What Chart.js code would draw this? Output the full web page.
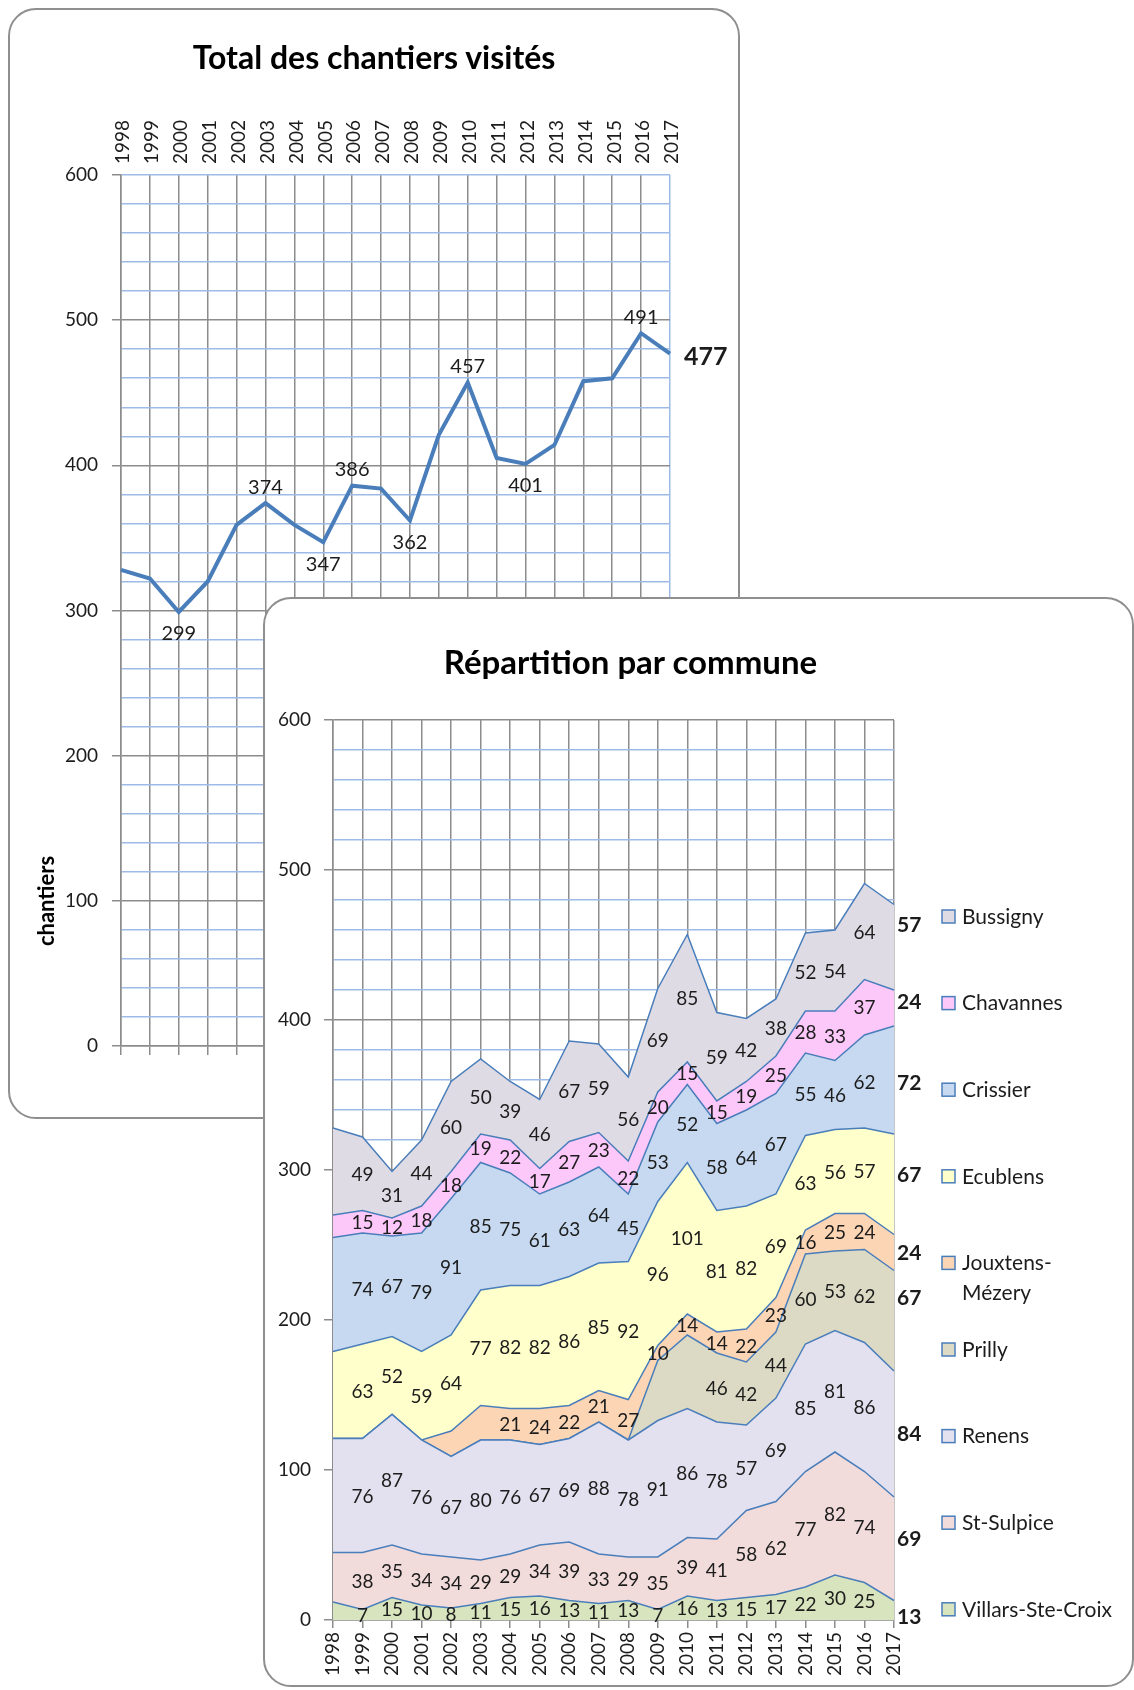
<!DOCTYPE html>
<html>
<head>
<meta charset="utf-8">
<script src="https://cdn.jsdelivr.net/npm/chart.js@4.4.1/dist/chart.umd.min.js"></script>
<style>
html, body { margin: 0; padding: 0; width: 1134px; height: 1690px; overflow: hidden; background: #fff; font-family: Lato, sans-serif; }
.panel { position: absolute; background: #fff; border: 2px solid #8f8f8f; border-radius: 28px; box-sizing: border-box; overflow: hidden; }
#panelTotal { left: 8px; top: 8px; width: 732px; height: 1111px; z-index: 1; }
#panelCommune { left: 263px; top: 597px; width: 871px; height: 1090px; z-index: 2; }
.panel canvas { position: absolute; left: 0; top: 0; }
.title { position: absolute; left: 0; right: 0; text-align: center; font-weight: bold; color: #000; line-height: 36px; }
#yTitle { position: absolute; left: -24px; top: 878px; width: 120px; height: 26px; line-height: 26px; text-align: center;
          font-weight: bold; font-size: 22px; color: #000; transform: rotate(-90deg); }
</style>
</head>
<body>
<div class="panel" id="panelTotal">
  <canvas id="totalChart" width="728" height="1107"></canvas>
  <div class="title" style="top:29px;font-size:32px;">Total des chantiers visités</div>
  <div id="yTitle">chantiers</div>
</div>
<div class="panel" id="panelCommune">
  <canvas id="communeChart" width="867" height="1086"></canvas>
  <div class="title" style="top:44px;right:136px;font-size:33px;">Répartition par commune</div>
</div>
<script>
// categories
const years = ['1998', '1999', '2000', '2001', '2002', '2003', '2004', '2005', '2006', '2007',
               '2008', '2009', '2010', '2011', '2012', '2013', '2014', '2015', '2016', '2017'];

// total of visited sites
const totals = [328, 322, 299, 320, 359, 374, 359, 347, 386, 384, 362, 421, 457, 405, 401, 414, 458, 460, 491, 477];

// tick labels shown on the value axes
const yTickLabels = [0, 100, 200, 300, 400, 500, 600];

// per commune, stacked from the bottom
const villars   = [12, 7, 15, 10, 8, 11, 15, 16, 13, 11, 13, 7, 16, 13, 15, 17, 22, 30, 25, 13];
const stSulpice = [33, 38, 35, 34, 34, 29, 29, 34, 39, 33, 29, 35, 39, 41, 58, 62, 77, 82, 74, 69];
const renens    = [76, 76, 87, 76, 67, 80, 76, 67, 69, 88, 78, 91, 86, 78, 57, 69, 85, 81, 86, 84];
const prilly    = [0, 0, 0, 0, 0, 0, 0, 0, 0, 0, 0, 40, 49, 46, 42, 44, 60, 53, 62, 67];
const jouxtens  = [0, 0, 0, 0, 17, 23, 21, 24, 22, 21, 27, 10, 14, 14, 22, 23, 16, 25, 24, 24];
const ecublens  = [58, 63, 52, 59, 64, 77, 82, 82, 86, 85, 92, 96, 101, 81, 82, 69, 63, 56, 57, 67];
const crissier  = [76, 74, 67, 79, 91, 85, 75, 61, 63, 64, 45, 53, 52, 58, 64, 67, 55, 46, 62, 72];
const chavannes = [15, 15, 12, 18, 18, 19, 22, 17, 27, 23, 22, 20, 15, 15, 19, 25, 28, 33, 37, 24];
const bussigny  = [58, 49, 31, 44, 60, 50, 39, 46, 67, 59, 56, 69, 85, 59, 42, 38, 52, 54, 64, 57];

// labels on the total line
const totalLabelSide = { '2000': 'below', '2003': 'above', '2005': 'below', '2006': 'above', '2008': 'below',
                         '2010': 'above', '2012': 'below', '2016': 'above', '2017': 'right' };
// labels that the original leaves out
const hiddenLabels = { 'Prilly': ['2009', '2010'], 'Jouxtens-Mézery': ['2002', '2003'] };
// nudges (px) of the bold end labels, as placed in the original
const endLabelShift = { 'Bussigny': -22, 'Chavannes': -6, 'Crissier': 3, 'Ecublens': -9, 'Jouxtens-Mézery': 1,
                        'Prilly': -23, 'Renens': 0, 'St-Sulpice': -10, 'Villars-Ste-Croix': 7 };

const GRAY = '#8c8c8c';
const BLUE = '#9dbbe6';
const LINE = '#4a7ebb';
const TEXT = '#1c1c1c';

function gridColor(topBlue) {
    return function(c) {
        if (!c.tick) return GRAY;
        if (topBlue && c.tick.value === 600) return BLUE;
        return c.tick.value % 100 === 0 ? GRAY : BLUE;
    };
}

function yScale(width, topBlue, pad) {
    return {
        min: 0, max: 600,
        afterFit: function(scale) { scale.width = width; },
        ticks: {
            stepSize: 20, autoSkip: false, padding: pad,
            color: TEXT, font: { family: 'Lato', size: 19 },
            callback: v => yTickLabels.includes(v) ? v : ''
        },
        grid: {
            color: gridColor(topBlue), lineWidth: 1.5, tickLength: 9,
            tickColor: c => (c.tick && c.tick.value % 100 === 0) ? GRAY : 'rgba(0,0,0,0)'
        },
        border: { color: GRAY, width: 1.5 }
    };
}

// ---------- Total chart ----------
const totalLabelsPlugin = {
    id: 'totalLabels',
    afterDatasetsDraw(chart) {
        const ctx = chart.ctx;
        const meta = chart.getDatasetMeta(0);
        ctx.save();
        ctx.fillStyle = TEXT;
        ctx.textBaseline = 'middle';
        Object.keys(totalLabelSide).forEach(yr => {
            const i = years.indexOf(yr);
            const p = meta.data[i];
            const side = totalLabelSide[yr];
            if (side === 'right') {
                ctx.font = 'bold 25px Lato';
                ctx.textAlign = 'left';
                ctx.fillText(totals[i], p.x + 14, p.y + 3);
            } else {
                ctx.font = '20px Lato';
                ctx.textAlign = 'center';
                ctx.fillText(totals[i], p.x, side === 'above' ? p.y - 16 : p.y + 22);
            }
        });
        ctx.restore();
    }
};

new Chart(document.getElementById('totalChart'), {
    type: 'line',
    data: {
        labels: years,
        datasets: [{
            data: totals,
            borderColor: LINE,
            borderWidth: 4,
            pointRadius: 0,
            tension: 0,
            fill: false
        }]
    },
    options: {
        responsive: false,
        animation: false,
        layout: { padding: { left: 0, right: 68, top: 85, bottom: 61 } },
        plugins: { legend: { display: false }, tooltip: { enabled: false } },
        scales: {
            x: {
                position: 'bottom',
                afterFit: function(scale) { scale.height = 10; },
                ticks: { display: false },
                grid: {
                    color: c => c.index === years.length - 1 ? BLUE : GRAY,
                    lineWidth: 1.5, tickLength: 9, tickColor: GRAY
                },
                border: { color: GRAY, width: 1.5 }
            },
            xTop: {
                type: 'category',
                labels: years,
                position: 'top',
                offset: false,
                afterFit: function(scale) { scale.height = 80; },
                ticks: {
                    maxRotation: 90, minRotation: 90, autoSkip: false, padding: 11, labelOffset: 25,
                    color: TEXT, font: { family: 'Lato', size: 19 }
                },
                grid: { display: false, drawTicks: false },
                border: { display: false }
            },
            y: yScale(111, true, 14)
        }
    },
    plugins: [totalLabelsPlugin]
});

// ---------- Commune chart ----------
const communes = [
    { name: 'Villars-Ste-Croix', values: villars,   color: '#d7e4bd' },
    { name: 'St-Sulpice',        values: stSulpice, color: '#f2dcdb' },
    { name: 'Renens',            values: renens,    color: '#e3e0ef' },
    { name: 'Prilly',            values: prilly,    color: '#dcdac4' },
    { name: 'Jouxtens-Mézery',   values: jouxtens,  color: '#fcd5b5' },
    { name: 'Ecublens',          values: ecublens,  color: '#ffffcb' },
    { name: 'Crissier',          values: crissier,  color: '#c6d9f0' },
    { name: 'Chavannes',         values: chavannes, color: '#fcc8fa' },
    { name: 'Bussigny',          values: bussigny,  color: '#dedbe4' }
];

const communeLabelsPlugin = {
    id: 'communeLabels',
    afterDatasetsDraw(chart) {
        const ctx = chart.ctx;
        const yS = chart.scales.y;
        const area = chart.chartArea;
        const last = years.length - 1;
        ctx.save();
        ctx.fillStyle = TEXT;
        ctx.textBaseline = 'middle';
        chart.data.datasets.forEach((ds, d) => {
            const meta = chart.getDatasetMeta(d);
            const below = d > 0 ? chart.getDatasetMeta(d - 1) : null;
            const hidden = hiddenLabels[ds.label] || [];
            ds.data.forEach((v, i) => {
                if (i === 0 || v <= 0) return;
                if (hidden.includes(years[i])) return;
                const top = meta.data[i].y;
                const bottom = below ? below.data[i].y : yS.getPixelForValue(0);
                const cy = (top + bottom) / 2;
                if (i === last) {
                    ctx.font = 'bold 21px Lato';
                    ctx.textAlign = 'left';
                    ctx.fillText(v, area.right + 3, cy + (endLabelShift[ds.label] || 0));
                } else {
                    ctx.font = '19px Lato';
                    ctx.textAlign = 'center';
                    ctx.fillText(v, meta.data[i].x, cy + 1);
                }
            });
        });

        // legend, top to bottom
        const order = chart.data.datasets.slice().reverse();
        ctx.font = '21px Lato';
        ctx.textAlign = 'left';
        order.forEach((ds, k) => {
            const cy = 318 + k * 86.6;
            ctx.fillStyle = ds.backgroundColor;
            ctx.fillRect(677, cy - 7, 13, 13);
            ctx.strokeStyle = LINE;
            ctx.lineWidth = 1.5;
            ctx.strokeRect(677, cy - 7, 13, 13);
            ctx.fillStyle = TEXT;
            const parts = ds.label === 'Jouxtens-Mézery' ? ['Jouxtens-', 'Mézery'] : [ds.label];
            parts.forEach((t, j) => ctx.fillText(t, 697, cy + j * 30));
        });
        ctx.restore();
    }
};

new Chart(document.getElementById('communeChart'), {
    type: 'line',
    data: {
        labels: years,
        datasets: communes.map((c, i) => ({
            label: c.name,
            data: c.values,
            backgroundColor: c.color,
            borderColor: LINE,
            borderWidth: 1.5,
            pointRadius: 0,
            tension: 0,
            fill: i === 0 ? 'origin' : '-1'
        }))
    },
    options: {
        responsive: false,
        animation: false,
        layout: { padding: { left: 0, right: 238, top: 121, bottom: 0 } },
        plugins: { legend: { display: false }, tooltip: { enabled: false } },
        scales: {
            x: {
                afterFit: function(scale) { scale.height = 65; },
                ticks: {
                    maxRotation: 90, minRotation: 90, autoSkip: false, padding: 4,
                    color: TEXT, font: { family: 'Lato', size: 19 }
                },
                grid: { color: GRAY, lineWidth: 1.5, tickLength: 8, tickColor: GRAY },
                border: { color: GRAY, width: 1.5 }
            },
            y: Object.assign(yScale(68, false, 13), { stacked: true })
        }
    },
    plugins: [communeLabelsPlugin]
});
</script>
</body>
</html>
